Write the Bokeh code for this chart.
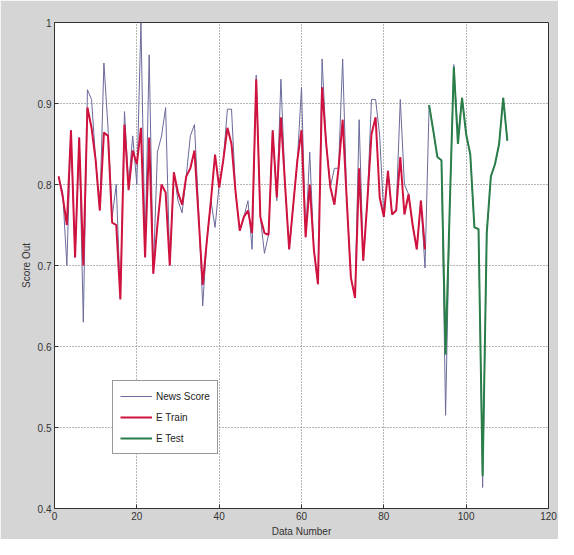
from bokeh.plotting import figure
from bokeh.models import FixedTicker, Legend, LegendItem, Range1d
from bokeh.embed import file_html
from bokeh.resources import INLINE

# ---- data ----
train_x = list(range(1, 91))
train_y = [0.81, 0.785, 0.75, 0.867, 0.71, 0.858, 0.70, 0.895, 0.87, 0.83,
           0.768, 0.864, 0.86, 0.753, 0.75, 0.658, 0.874, 0.793, 0.842, 0.825,
           0.87, 0.71, 0.858, 0.69, 0.75, 0.80, 0.79, 0.70, 0.815, 0.79,
           0.775, 0.81, 0.82, 0.842, 0.76, 0.676, 0.73, 0.78, 0.837, 0.796,
           0.83, 0.87, 0.85, 0.79, 0.743, 0.76, 0.768, 0.74, 0.93, 0.76,
           0.74, 0.738, 0.867, 0.784, 0.883, 0.80, 0.72, 0.775, 0.83, 0.867,
           0.735, 0.80, 0.72, 0.677, 0.92, 0.85, 0.797, 0.775, 0.82, 0.88,
           0.78, 0.685, 0.66, 0.82, 0.706, 0.78, 0.862, 0.883, 0.784, 0.76,
           0.817, 0.763, 0.768, 0.834, 0.763, 0.788, 0.75, 0.72, 0.78, 0.72]

test_x = list(range(91, 111))
test_y = [0.898, 0.867, 0.834, 0.83, 0.59, 0.77, 0.945, 0.85, 0.907, 0.862,
          0.837, 0.747, 0.745, 0.44, 0.74, 0.81, 0.825, 0.85, 0.907, 0.854]

news_x = list(range(1, 111))
news_y = [0.81, 0.79, 0.70, 0.867, 0.71, 0.858, 0.63, 0.917, 0.905, 0.83,
          0.768, 0.95, 0.87, 0.76, 0.80, 0.66, 0.89, 0.80, 0.86, 0.80,
          1.0, 0.72, 0.96, 0.69, 0.84, 0.86, 0.895, 0.70, 0.815, 0.78,
          0.765, 0.81, 0.86, 0.874, 0.77, 0.65, 0.73, 0.78, 0.747, 0.80,
          0.83, 0.893, 0.893, 0.79, 0.743, 0.76, 0.78, 0.72, 0.935, 0.76,
          0.715, 0.738, 0.867, 0.78, 0.93, 0.80, 0.72, 0.775, 0.83, 0.92,
          0.735, 0.84, 0.72, 0.677, 0.955, 0.85, 0.797, 0.82, 0.82, 0.955,
          0.78, 0.685, 0.66, 0.88, 0.706, 0.78, 0.905, 0.905, 0.86, 0.76,
          0.817, 0.763, 0.768, 0.905, 0.80, 0.788, 0.75, 0.72, 0.78, 0.697,
          0.898, 0.867, 0.834, 0.83, 0.515, 0.77, 0.948, 0.86, 0.907, 0.862,
          0.837, 0.747, 0.745, 0.426, 0.74, 0.81, 0.825, 0.85, 0.907, 0.854]

x_ticks = [0, 20, 40, 60, 80, 100, 120]
y_ticks = [0.4, 0.5, 0.6, 0.7, 0.8, 0.9, 1.0]
series_names = ["News Score", "E Train", "E Test"]

FONT = "Liberation Sans"
BG = "#d5d5d5"

p = figure(frame_width=494, frame_height=486,
           min_border_left=54, min_border_right=10,
           min_border_top=22, min_border_bottom=31,
           x_range=Range1d(0, 120), y_range=Range1d(0.4, 1.0),
           output_backend="svg", toolbar_location=None,
           background_fill_color="white", border_fill_color=BG)

p.outline_line_color = "#333333"
p.outline_line_width = 1

for ax in (p.xaxis[0], p.yaxis[0]):
    ax.major_tick_in = 4
    ax.major_tick_out = 0
    ax.minor_tick_in = 0
    ax.minor_tick_out = 0
    ax.axis_line_color = "#333333"
    ax.major_tick_line_color = "#333333"
    ax.major_label_text_font = FONT
    ax.major_label_text_font_size = "10px"
    ax.major_label_text_color = "#333333"
    ax.axis_label_text_font = FONT
    ax.axis_label_text_font_size = "10px"
    ax.axis_label_text_font_style = "normal"
    ax.axis_label_text_color = "#333333"
    ax.major_label_standoff = 3
    ax.axis_label_standoff = 3

p.xaxis.ticker = FixedTicker(ticks=x_ticks)
p.yaxis.ticker = FixedTicker(ticks=y_ticks)
p.yaxis.major_label_overrides = {1.0: "1", 1: "1"}
p.xaxis.axis_label = "Data Number"
p.yaxis.axis_label = "Score Out"

for g in (p.xgrid[0], p.ygrid[0]):
    g.grid_line_color = "#6e6e6e"
    g.grid_line_dash = "1 2"
    g.grid_line_width = 1

r_news = p.line(news_x, news_y, line_color="#6a6a9c", line_width=1)
r_train = p.line(train_x, train_y, line_color="#d0123f", line_width=2)
r_test = p.line(test_x, test_y, line_color="#2a7f48", line_width=2)

legend = Legend(items=[LegendItem(label=series_names[0], renderers=[r_news]),
                       LegendItem(label=series_names[1], renderers=[r_train]),
                       LegendItem(label=series_names[2], renderers=[r_test])],
                location=(58, 54))
legend.label_text_font = FONT
legend.label_text_font_size = "10px"
legend.label_text_color = "#222222"
legend.label_height = 16
legend.glyph_height = 16
legend.glyph_width = 32
legend.label_standoff = 4
legend.spacing = 5
legend.padding = 7
legend.margin = 0
legend.border_line_color = "#333333"
legend.background_fill_color = "white"
legend.background_fill_alpha = 1.0
p.add_layout(legend)

open("out.html", "w").write(file_html(p, INLINE))
